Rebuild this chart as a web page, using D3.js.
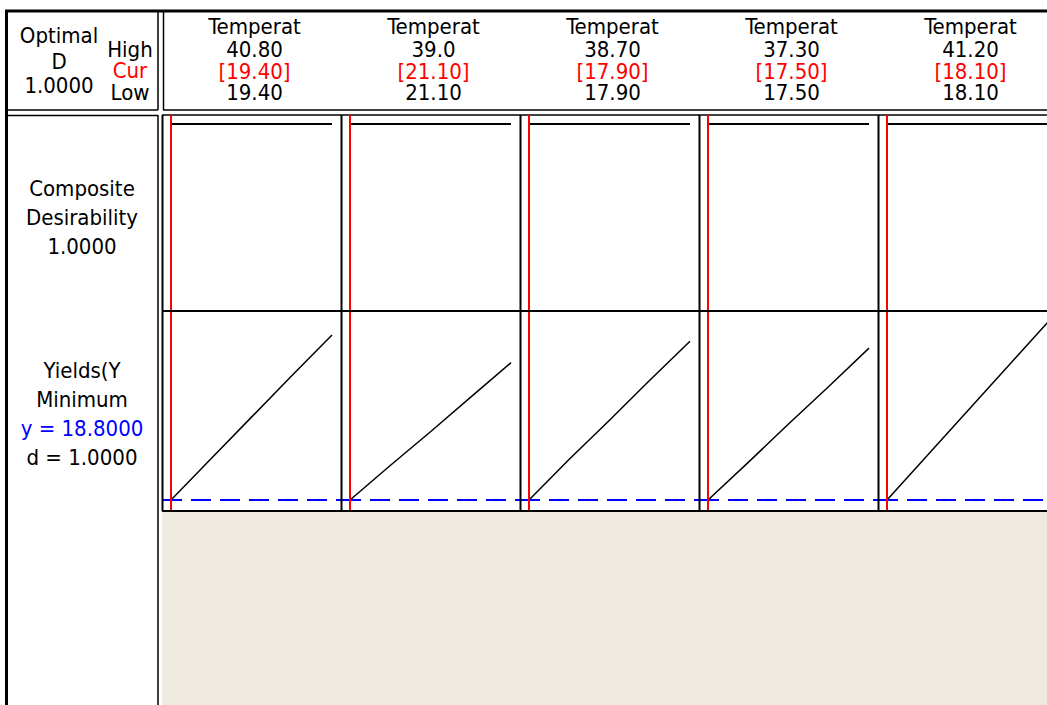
<!DOCTYPE html>
<html>
  <head>
    <meta charset="utf-8">
    <title>Optimization Plot</title>
    <style>
      body { margin: 0; background: white; }
      text { font-family: "DejaVu Sans Condensed", "DejaVu Sans", Verdana, sans-serif; font-size: 22px; }
    </style>
  </head>
  <body>
    <div id="chart"></div>
    <script src="https://d3js.org/d3.v7.min.js"></script>
    <script>

    // ------------------------------------------------ data
    var factorNames = ["Temperat", "Temperat", "Temperat", "Temperat", "Temperat"];
    var highLabels  = ["40.80", "39.0", "38.70", "37.30", "41.20"];
    var highs       = [40.80, 39.0, 38.70, 37.30, 41.20];
    var curs        = [19.40, 21.10, 17.90, 17.50, 18.10];
    var lows        = [19.40, 21.10, 17.90, 17.50, 18.10];
    var curLabels   = ["[19.40]", "[21.10]", "[17.90]", "[17.50]", "[18.10]"];
    var lowLabels   = ["19.40", "21.10", "17.90", "17.50", "18.10"];

    // Yields(Y at 0, 1/4, 1/2, 3/4 and all of each factor's range
    var yieldCurves = [
      [18.8, 24.2, 29.6, 35.0, 40.3],
      [18.8, 23.3, 27.7, 32.2, 36.7],
      [18.8, 24.1, 29.2, 34.4, 39.5],
      [18.8, 23.7, 28.7, 33.6, 38.6],
      [18.8, 24.6, 30.4, 36.2, 42.0]
    ];
    var compositeD = [1.0, 1.0];   // composite desirability at low and high
    var yTarget = 18.8;            // current y (Minimum goal)

    var rowLabels1 = ["Composite", "Desirability", "1.0000"];
    var rowLabels2 = ["Yields(Y", "Minimum", "y = 18.8000", "d = 1.0000"];

    // ------------------------------------------------ layout
    var width = 1047, height = 705;
    var gridLeft = 162, panelW = 179;
    var gridTop = 115, rowSplit = 311, gridBottom = 511;

    var svg = d3.select("#chart").append("svg")
        .attr("width", width)
        .attr("height", height);

    svg.append("rect")
        .attr("width", width).attr("height", height)
        .attr("fill", "white");

    // beige area under the panels
    svg.append("rect")
        .attr("x", gridLeft).attr("y", gridBottom)
        .attr("width", width - gridLeft).attr("height", height - gridBottom)
        .attr("fill", "#eeeae0");

    var panelScale = d3.scaleBand()
        .domain(d3.range(factorNames.length))
        .range([gridLeft, gridLeft + panelW * factorNames.length]);

    var yScale = d3.scaleLinear().domain([18.8, 42.0]).range([500, 322]);
    var dScale = d3.scaleLinear().domain([0, 1]).range([300, 124]);

    function line(x1, y1, x2, y2, w, col) {
      return svg.append("line")
          .attr("x1", x1).attr("y1", y1).attr("x2", x2).attr("y2", y2)
          .attr("stroke", col || "black")
          .attr("stroke-width", w);
    }

    // ------------------------------------------------ frames
    line(5, 11, width, 11, 3);
    line(6.5, 10, 6.5, height, 3);
    line(158, 11, 158, 110, 1.5);
    line(5, 110, 158, 110, 1.5);
    line(5, 115.5, 158, 115.5, 1.5);
    line(158, 115, 158, height, 1.5);
    line(163.5, 11, 163.5, 110, 1.5);
    line(163, 110, width, 110, 1.5);
    line(gridLeft, gridTop, width, gridTop, 1.5);

    // ------------------------------------------------ header text
    var hdr = svg.append("g").attr("text-anchor", "middle");
    hdr.append("text").attr("x", 59).attr("y", 43).text("Optimal");
    hdr.append("text").attr("x", 59).attr("y", 69).text("D");
    hdr.append("text").attr("x", 59).attr("y", 93).text("1.0000");
    hdr.append("text").attr("x", 130).attr("y", 57).text("High");
    hdr.append("text").attr("x", 130).attr("y", 78).attr("fill", "red").text("Cur");
    hdr.append("text").attr("x", 130).attr("y", 100).text("Low");

    factorNames.forEach(function(name, i) {
      var cx = panelScale(i) + panelW / 2 + 3;
      hdr.append("text").attr("x", cx).attr("y", 34).text(name);
      hdr.append("text").attr("x", cx).attr("y", 57).text(highLabels[i]);
      hdr.append("text").attr("x", cx).attr("y", 79).attr("fill", "red").text(curLabels[i]);
      hdr.append("text").attr("x", cx).attr("y", 100).text(lowLabels[i]);
    });

    // ------------------------------------------------ row labels
    var lab = svg.append("g").attr("text-anchor", "middle");
    rowLabels1.forEach(function(t, i) {
      lab.append("text").attr("x", 82).attr("y", 196 + i * 29).text(t);
    });
    rowLabels2.forEach(function(t, i) {
      lab.append("text").attr("x", 82).attr("y", 378 + i * 29)
          .attr("fill", i == 2 ? "blue" : "black")
          .text(t);
    });

    // ------------------------------------------------ panels
    factorNames.forEach(function(name, i) {
      var left = panelScale(i);
      var x = d3.scaleLinear()
          .domain([lows[i], highs[i]])
          .range([left + 9, left + 170]);

      // composite desirability
      line(x(lows[i]), dScale(compositeD[0]), x(highs[i]), dScale(compositeD[1]), 2);

      // response curve
      var n = yieldCurves[i].length;
      var pts = yieldCurves[i].map(function(v, k) {
        return [lows[i] + (highs[i] - lows[i]) * k / (n - 1), v];
      });
      svg.append("path")
          .datum(pts)
          .attr("fill", "none")
          .attr("stroke", "black")
          .attr("stroke-width", 1.5)
          .attr("d", d3.line()
              .x(function(d) { return x(d[0]); })
              .y(function(d) { return yScale(d[1]); }));

      // target y
      line(left, yScale(yTarget), left + panelW, yScale(yTarget), 2, "blue")
          .attr("stroke-dasharray", "20,9");

      // current setting
      line(x(curs[i]), gridTop, x(curs[i]), gridBottom + 1, 2, "red");

      // panel frame
      line(left + 0.5, gridTop, left + 0.5, gridBottom, 2);
    });

    line(gridLeft, rowSplit, width, rowSplit, 2);
    line(gridLeft, gridBottom, width, gridBottom, 2);

    </script>
  </body>
</html>
